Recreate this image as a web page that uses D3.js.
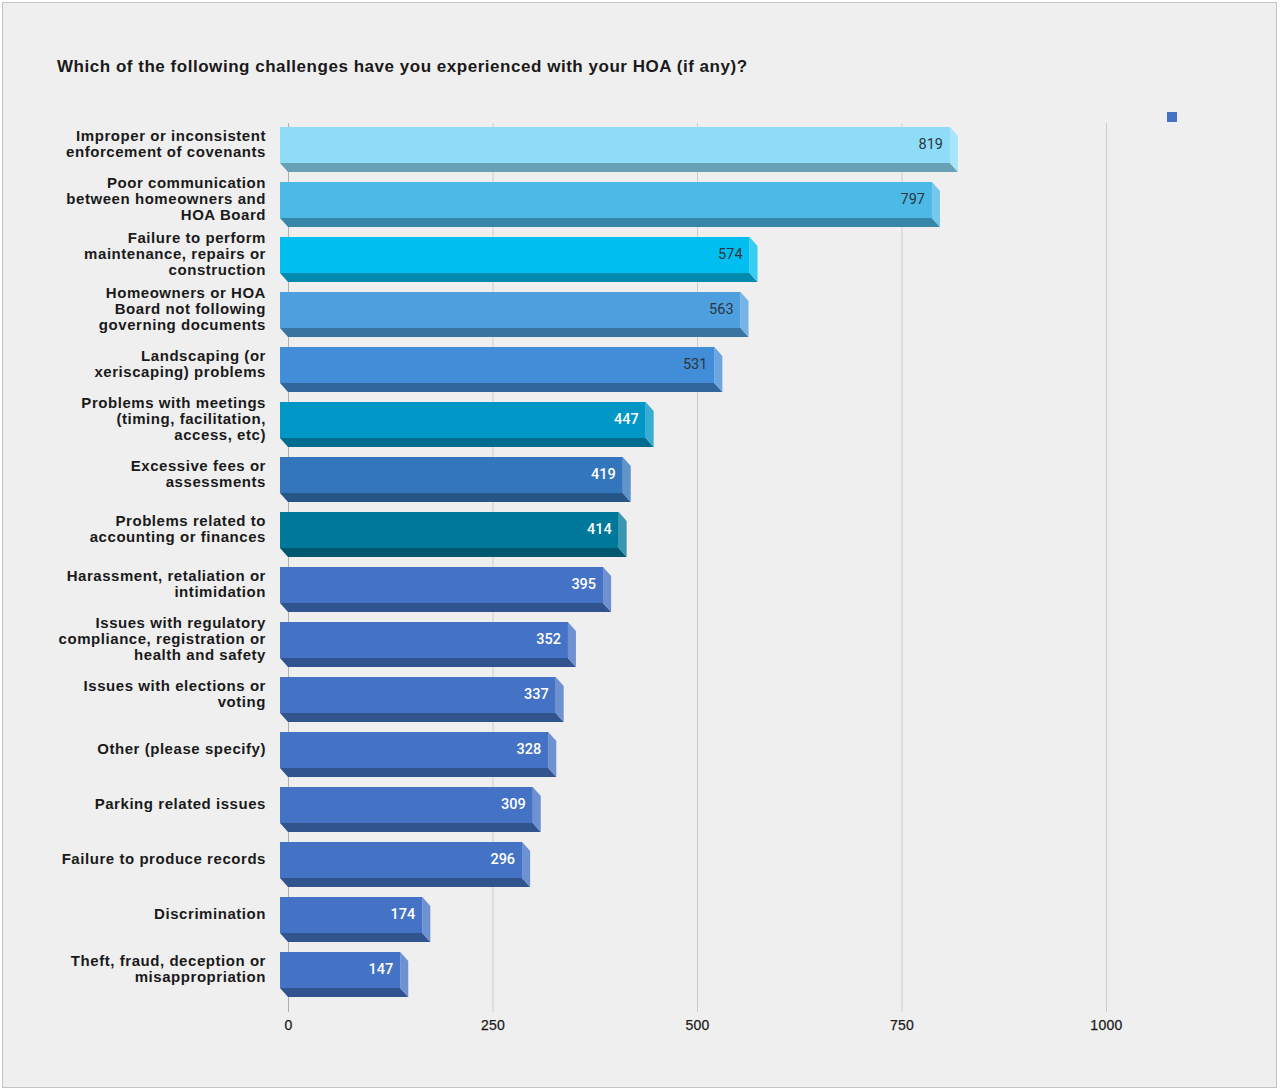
<!DOCTYPE html>
<html>
<head>
<meta charset="utf-8">
<script src="https://cdn.jsdelivr.net/npm/d3@7"></script>
<style>
  html, body { margin: 0; padding: 0; background: #ffffff; }
  svg { display: block; }
</style>
</head>
<body>
<svg id="chart" width="1280" height="1091"></svg>
<script>
// ---- data ----
const title = "Which of the following challenges have you experienced with your HOA (if any)?";
const categories = [
  "Improper or inconsistent\nenforcement of covenants",
  "Poor communication\nbetween homeowners and\nHOA Board",
  "Failure to perform\nmaintenance, repairs or\nconstruction",
  "Homeowners or HOA\nBoard not following\ngoverning documents",
  "Landscaping (or\nxeriscaping) problems",
  "Problems with meetings\n(timing, facilitation,\naccess, etc)",
  "Excessive fees or\nassessments",
  "Problems related to\naccounting or finances",
  "Harassment, retaliation or\nintimidation",
  "Issues with regulatory\ncompliance, registration or\nhealth and safety",
  "Issues with elections or\nvoting",
  "Other (please specify)",
  "Parking related issues",
  "Failure to produce records",
  "Discrimination",
  "Theft, fraud, deception or\nmisappropriation"
];
const values = [819, 797, 574, 563, 531, 447, 419, 414, 395, 352, 337, 328, 309, 296, 174, 147];
const xTicks = [0, 250, 500, 750, 1000];

// ---- styles ----
const barColors = ["#8fdcf8", "#4cb9e6", "#00bff0", "#4e9fdd", "#428dd7", "#0096c6", "#3376bb", "#00789a",
  "#4472c4", "#4472c4", "#4472c4", "#4472c4", "#4472c4", "#4472c4", "#4472c4", "#4472c4"];
const labelDark = [true, true, true, true, true, false, false, false, false, false, false, false, false, false, false, false];

const svg = d3.select("#chart");

svg.append("rect").attr("x", 2.5).attr("y", 2.5).attr("width", 1274).attr("height", 1085)
  .attr("fill", "#efefef").attr("stroke", "#c4c4c4").attr("stroke-width", 1);

svg.append("text").attr("x", 57).attr("y", 72)
  .attr("font-family", "'Liberation Sans', Arial, sans-serif")
  .attr("font-size", 17).attr("font-weight", "bold").attr("fill", "#1a1a1a")
  .attr("letter-spacing", 0.53)
  .text(title);

const x = d3.scaleLinear().domain([0, 1000]).range([288, 1106]);
const y = d3.scaleBand().domain(d3.range(categories.length)).range([122, 1002]).padding(0);

const depthX = 8, depthY = 9, frontH = 36, topOff = 5;

// gridlines
svg.append("g").selectAll("line").data(xTicks).join("line")
  .attr("x1", d => x(d) + 0.5).attr("x2", d => x(d) + 0.5)
  .attr("y1", 123).attr("y2", 1012)
  .attr("stroke", d => d === 0 ? "#b0b0b0" : "#cccccc").attr("stroke-width", 1);

// axis tick labels
const axis = d3.axisBottom(x).tickValues(xTicks).tickSize(0).tickPadding(0).tickFormat(d3.format("d"));
const ax = svg.append("g").attr("transform", "translate(0,1017)").call(axis);
ax.select(".domain").remove();
ax.selectAll("text").attr("font-family", "'Liberation Sans', Arial, sans-serif")
  .attr("font-size", 14).attr("fill", "#1a1a1a").attr("dy", "0.9em")
  .attr("stroke", "#1a1a1a").attr("stroke-width", 0.25).attr("letter-spacing", 0.3);

// legend marker
svg.append("rect").attr("x", 1167).attr("y", 112).attr("width", 10).attr("height", 10).attr("fill", "#4472c4");

const darken = c => d3.color(c).darker(0.9).formatHex();
const lighten = c => d3.interpolateRgb(c, "#ffffff")(0.22);

const bars = svg.append("g").selectAll("g").data(values).join("g");

bars.each(function (v, i) {
  const g = d3.select(this);
  const x0 = x(0) - depthX;
  const x1 = x(v) - depthX;
  const t = y(i) + topOff;
  const b = t + frontH;
  const col = barColors[i];
  // bottom face
  g.append("path")
    .attr("d", `M${x0},${b}L${x1},${b}L${x1 + depthX},${b + depthY}L${x0 + depthX},${b + depthY}Z`)
    .attr("fill", darken(col));
  // right side face
  g.append("path")
    .attr("d", `M${x1},${t}L${x1 + depthX},${t + depthY}L${x1 + depthX},${b + depthY}L${x1},${b}Z`)
    .attr("fill", lighten(col));
  // front face
  g.append("rect").attr("x", x0).attr("y", t).attr("width", x1 - x0).attr("height", frontH).attr("fill", col);
  // value label
  g.append("text").attr("x", x1 - 7).attr("y", t + frontH / 2 - 1).attr("dy", "0.35em")
    .attr("text-anchor", "end")
    .attr("font-family", "Roboto, sans-serif").attr("font-size", 14.5)
    .attr("font-weight", labelDark[i] ? 400 : 500)
    .attr("fill", labelDark[i] ? "#2b3640" : "#ffffff")
    .text(v);
});

// category labels
const labels = svg.append("g").selectAll("text").data(categories).join("text")
  .attr("text-anchor", "end")
  .attr("font-family", "'Liberation Sans', Arial, sans-serif")
  .attr("font-size", 15).attr("font-weight", "bold").attr("fill", "#1a1a1a")
  .attr("letter-spacing", 0.55);

labels.each(function (c, i) {
  const lines = c.split("\n");
  const cy = y(i) + topOff + frontH / 2 - 1;
  const lh = 16;
  const startY = cy - (lines.length - 1) * lh / 2;
  d3.select(this).selectAll("tspan").data(lines).join("tspan")
    .attr("x", 266).attr("y", (d, k) => startY + k * lh).attr("dy", "0.35em").text(d => d);
});
</script>
</body>
</html>
